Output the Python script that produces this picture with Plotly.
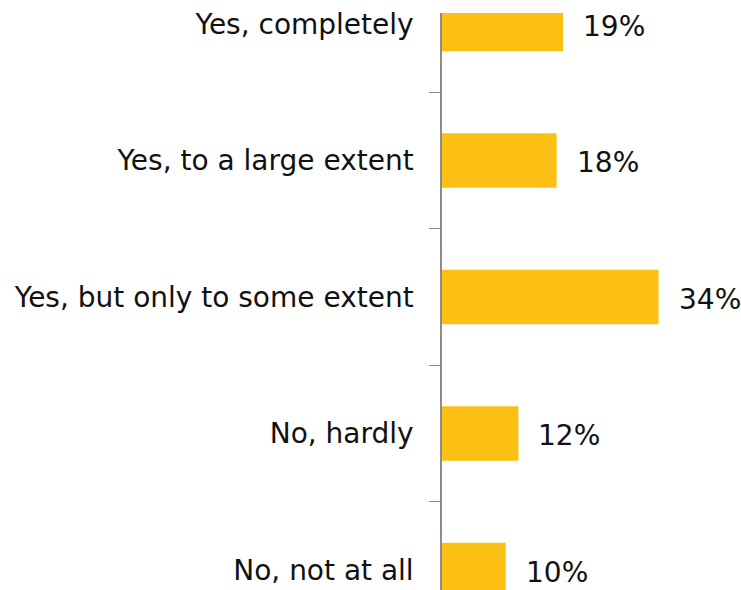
import plotly.graph_objects as go

# Survey answers, top to bottom
categories = [
    "Yes, completely",
    "Yes, to a large extent",
    "Yes, but only to some extent",
    "No, hardly",
    "No, not at all",
]
shares = [19, 18, 34, 12, 10]
value_labels = [f"{v}%" for v in shares]

BAR_COLOR = "#FCC015"
AXIS_COLOR = "#8C8C8C"
FONT = "DejaVu Sans"

fig = go.Figure(
    go.Bar(
        x=shares,
        y=categories,
        orientation="h",
        marker=dict(color=BAR_COLOR, line=dict(width=0)),
        width=0.4,
        hoverinfo="skip",
    )
)

# Percentage labels to the right of each bar
for cat, v, txt in zip(categories, shares, value_labels):
    fig.add_annotation(
        x=v, y=cat, text=txt, showarrow=False,
        xanchor="left", yanchor="middle", xshift=18, yshift=-2,
        font=dict(family=FONT, size=28, color="#111111"),
    )

fig.update_layout(
    width=741,
    height=590,
    margin=dict(l=442, r=0, t=13, b=0),
    paper_bgcolor="white",
    plot_bgcolor="white",
    showlegend=False,
    font=dict(family=FONT, size=28, color="#111111"),
)

fig.update_xaxes(
    range=[0, 46.94],
    visible=False,
    showgrid=False,
    zeroline=False,
)

fig.update_yaxes(
    type="category",
    categoryorder="array",
    categoryarray=categories,
    range=[4.1465, -0.0806],
    showline=True,
    linecolor=AXIS_COLOR,
    linewidth=1.5,
    ticks="outside",
    tickson="boundaries",
    ticklen=11,
    tickwidth=1.2,
    tickcolor=AXIS_COLOR,
    ticklabelstandoff=21,
    tickfont=dict(family=FONT, size=28, color="#111111"),
    showgrid=False,
    zeroline=False,
)

fig.write_html("out.html")
